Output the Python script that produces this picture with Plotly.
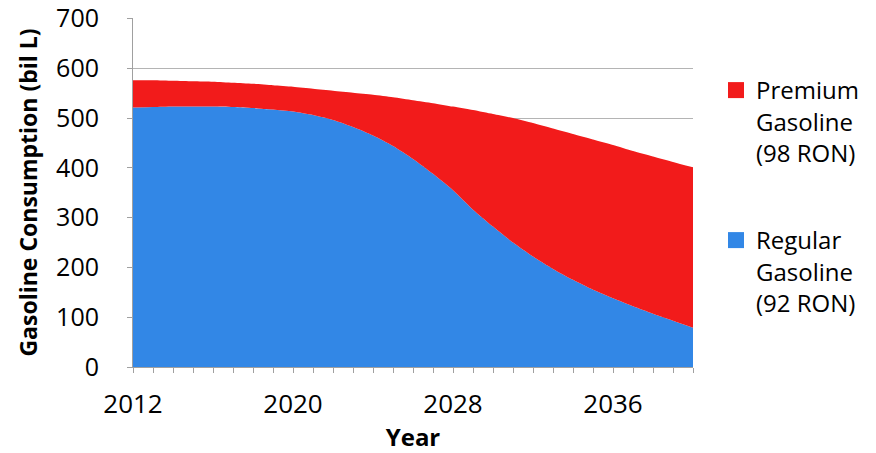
import plotly.graph_objects as go

years = list(range(2012, 2041))
regular_92 = [521, 522, 523, 523, 523, 522, 520, 517, 513, 506, 496, 482, 465, 444,
              418, 388, 355, 316, 282, 250, 222, 197, 175, 155, 138, 122, 107, 93, 79]
premium_98 = [55, 54, 52, 51, 50, 49, 49, 49, 50, 53, 59, 69, 82, 98,
              118, 142, 168, 200, 226, 250, 268, 282, 293, 302, 308, 312, 316, 319, 322]
x_tick_labels = [2012, 2020, 2028, 2036]
y_tick_values = [0, 100, 200, 300, 400, 500, 600, 700]

BLUE = "#3287e6"
RED = "#f21b1b"
FONT = "Open Sans"

fig = go.Figure()
fig.add_trace(go.Scatter(x=years, y=regular_92, stackgroup="g", mode="none",
                         line=dict(shape="spline", smoothing=0.6),
                         fillcolor=BLUE, showlegend=False, name="Regular"))
fig.add_trace(go.Scatter(x=years, y=premium_98, stackgroup="g", mode="none",
                         line=dict(shape="spline", smoothing=0.6),
                         fillcolor=RED, showlegend=False, name="Premium"))
# legend entries (square swatches)
fig.add_trace(go.Scatter(x=[None], y=[None], mode="markers", legend="legend",
                         marker=dict(symbol="square", size=16, color=RED),
                         name="Premium<br>Gasoline<br>(98 RON)"))
fig.add_trace(go.Scatter(x=[None], y=[None], mode="markers", legend="legend2",
                         marker=dict(symbol="square", size=16, color=BLUE),
                         name="Regular<br>Gasoline<br>(92 RON)"))

legend_common = dict(valign="top", font=dict(size=24, family=FONT),
                     xref="container", yref="container", xanchor="left",
                     yanchor="top", bgcolor="rgba(0,0,0,0)")

fig.update_layout(
    width=876, height=453,
    margin=dict(l=133, r=183, t=18, b=86, autoexpand=False),
    paper_bgcolor="white", plot_bgcolor="white",
    font=dict(family=FONT, color="black"),
    legend=dict(**legend_common, x=716 / 876, y=1 - 68 / 453),
    legend2=dict(**legend_common, x=716 / 876, y=1 - 218 / 453),
    xaxis=dict(range=[2012, 2040], tickvals=x_tick_labels, ticks="outside",
               ticklen=5, tickcolor="#a0a0a0", showline=True, linecolor="#a0a0a0",
               showgrid=False, zeroline=False, ticklabelstandoff=9, automargin=False,
               tickfont=dict(size=26, family=FONT),
               minor=dict(dtick=1, ticks="outside", ticklen=5, tickcolor="#a0a0a0"),
               title=dict(text="<b>Year</b>", font=dict(size=24, family=FONT), standoff=8)),
    yaxis=dict(range=[0, 701], tickvals=y_tick_values, ticks="outside", ticklen=5,
               tickcolor="#a0a0a0", showline=True, linecolor="#a0a0a0",
               showgrid=True, gridcolor="#b4b4b4", gridwidth=1, zeroline=False,
               ticklabelstandoff=23, tickfont=dict(size=25, family=FONT), automargin=False,
               ticklabeloverflow="allow",
               title=dict(text="<b>Gasoline Consumption (bil L)</b>",
                          font=dict(size=23, family=FONT), standoff=12)),
)

fig.write_html("out.html", config={"displayModeBar": False},
               post_script="document.body.style.margin='0';")
